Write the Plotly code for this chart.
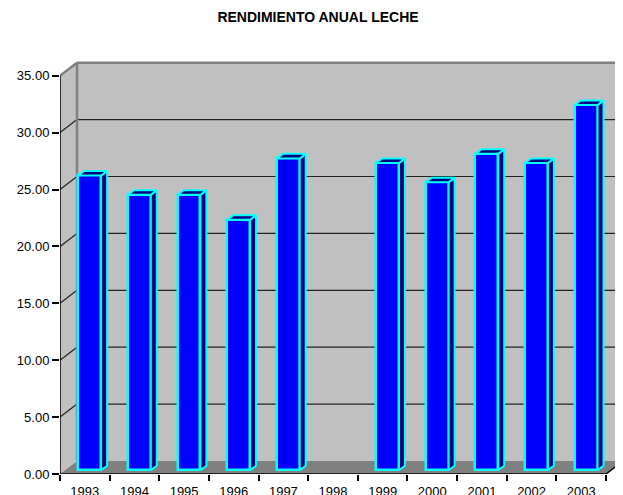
import plotly.graph_objects as go

# ---- data ----
years = ["1993", "1994", "1995", "1996", "1997", "1998", "1999", "2000", "2001", "2002", "2003"]
values = [25.9, 24.2, 24.2, 22.0, 27.4, None, 27.0, 25.3, 27.8, 27.0, 32.1]
y_ticks = [0, 5, 10, 15, 20, 25, 30, 35]
title_text = "RENDIMIENTO ANUAL LECHE"

# ---- geometry (pixel scale of the pseudo-3D chart) ----
OFF = 8              # page body margin
W_PX, H_PX = 623 - OFF, 495 - OFF
M_L, M_R, M_T, M_B = 60 - OFF, 0, 58 - OFF, 21
PXX = 49.64          # px per category
PXY = 11.38          # px per value unit
DX = 17 / PXX        # depth offset in category units
DY = 13 / PXY        # depth offset in value units
F_FRONT, F_BACK = 0.29, 0.64   # bar front/back depth fraction
BW = 0.46            # bar width
YMAX = 35
n = len(years)
x0 = -0.5
x_end = x0 + (W_PX - M_L - M_R) / PXX
y_end = (H_PX - M_T - M_B) / PXY
xl, xr = -0.5, n - 0.5

WALL = "#C0C0C0"
FLOOR = "#808080"
EDGE = "#808080"

fig = go.Figure()

shapes = []
# back wall
shapes.append(dict(type="rect", xref="x", yref="y", x0=xl + DX, x1=xr + DX, y0=DY, y1=YMAX + DY,
                   fillcolor=WALL, line=dict(width=0), layer="between"))
# left wall
shapes.append(dict(type="path", xref="x", yref="y",
                   path=f"M {xl},0 L {xl},{YMAX} L {xl+DX},{YMAX+DY} L {xl+DX},{DY} Z",
                   fillcolor=WALL, line=dict(width=0), layer="between"))
# floor
shapes.append(dict(type="path", xref="x", yref="y",
                   path=f"M {xl},0 L {xr},0 L {xr+DX},{DY} L {xl+DX},{DY} Z",
                   fillcolor=FLOOR, line=dict(width=0), layer="between"))
# gridlines on back wall and left wall
for v in y_ticks[1:-1]:
    shapes.append(dict(type="line", xref="x", yref="y", x0=xl + DX, x1=xr + DX, y0=v + DY, y1=v + DY,
                       line=dict(color="#222222", width=1.2), layer="between"))
    shapes.append(dict(type="line", xref="x", yref="y", x0=xl, x1=xl + DX, y0=v, y1=v + DY,
                       line=dict(color="#222222", width=1.2), layer="between"))
# wall edges (gray)
shapes.append(dict(type="line", xref="x", yref="y", x0=xl + DX, x1=xl + DX, y0=DY, y1=YMAX + DY,
                   line=dict(color=EDGE, width=2.5), layer="between"))
shapes.append(dict(type="line", xref="x", yref="y", x0=xl + DX, x1=xr + DX, y0=YMAX + DY, y1=YMAX + DY,
                   line=dict(color=EDGE, width=2.5), layer="between"))
shapes.append(dict(type="line", xref="x", yref="y", x0=xl, x1=xl + DX, y0=YMAX, y1=YMAX + DY,
                   line=dict(color=EDGE, width=2.5), layer="between"))
# right floor edge
shapes.append(dict(type="line", xref="x", yref="y", x0=xr, x1=xr + DX, y0=0, y1=DY,
                   line=dict(color="black", width=1.5), layer="between"))

# ---- bars: front faces ----
bx, by = [], []
for i, v in enumerate(values):
    bx.append(i + F_FRONT * DX)
    by.append(v)
fig.add_trace(go.Bar(x=bx, y=by, base=F_FRONT * DY, width=BW,
                     marker=dict(color="#0000FF", line=dict(color="#00FFFF", width=2.5)),
                     hoverinfo="skip", showlegend=False))

# side and top faces
sx, sy, tx, ty = [], [], [], []
for i, v in enumerate(values):
    if v is None:
        continue
    l = i - BW / 2
    r = i + BW / 2
    fx, fy = F_FRONT * DX, F_FRONT * DY
    kx, ky = F_BACK * DX, F_BACK * DY
    sx += [r + fx, r + kx, r + kx, r + fx, r + fx, None]
    sy += [fy, ky, v + ky, v + fy, fy, None]
    tx += [l + fx, r + fx, r + kx, l + kx, l + fx, None]
    ty += [v + fy, v + fy, v + ky, v + ky, v + fy, None]
for xs, ys in ((sx, sy), (tx, ty)):
    fig.add_trace(go.Scatter(x=xs, y=ys, mode="lines", fill="toself", fillcolor="#000080",
                             line=dict(color="#00FFFF", width=2), hoverinfo="skip",
                             showlegend=False, cliponaxis=False))

# front axis lines
fig.add_trace(go.Scatter(x=[xl, xl, None, xl, xr], y=[YMAX, 0, None, 0, 0], mode="lines",
                         line=dict(color="black", width=1.5), hoverinfo="skip",
                         showlegend=False, cliponaxis=False))

fig.update_layout(
    width=W_PX, height=H_PX,
    margin=dict(l=M_L, r=M_R, t=M_T, b=M_B, pad=0, autoexpand=False),
    paper_bgcolor="white", plot_bgcolor="white",
    shapes=shapes,
    title=dict(text="<b>" + title_text + "</b>", xref="container", yref="container",
               x=(318 - OFF) / W_PX, y=1 - (17 - OFF) / H_PX, xanchor="center", yanchor="middle",
               font=dict(family="Liberation Sans, Arial", size=14, color="black")),
    font=dict(family="Liberation Sans, Arial", size=13, color="black"),
    xaxis=dict(range=[x0, x_end], showgrid=False, zeroline=False, showline=False,
               tickmode="array", tickvals=list(range(n)), ticktext=years, ticks="",
               ticklabelstandoff=8, automargin=False,
               minor=dict(tickmode="array", tickvals=[k - 0.5 for k in range(n + 1)],
                          ticks="outside", ticklen=6, tickcolor="black", tickwidth=1.5, showgrid=False),
               tickfont=dict(size=13), fixedrange=True),
    yaxis=dict(range=[0, y_end], showgrid=False, zeroline=False, showline=False,
               tickmode="array", tickvals=y_ticks, tickformat=".2f", automargin=False,
               ticks="outside", ticklen=7, tickcolor="black", tickwidth=1.5,
               tickfont=dict(size=13), fixedrange=True),
    bargap=0,
)

fig.write_html("out.html")
